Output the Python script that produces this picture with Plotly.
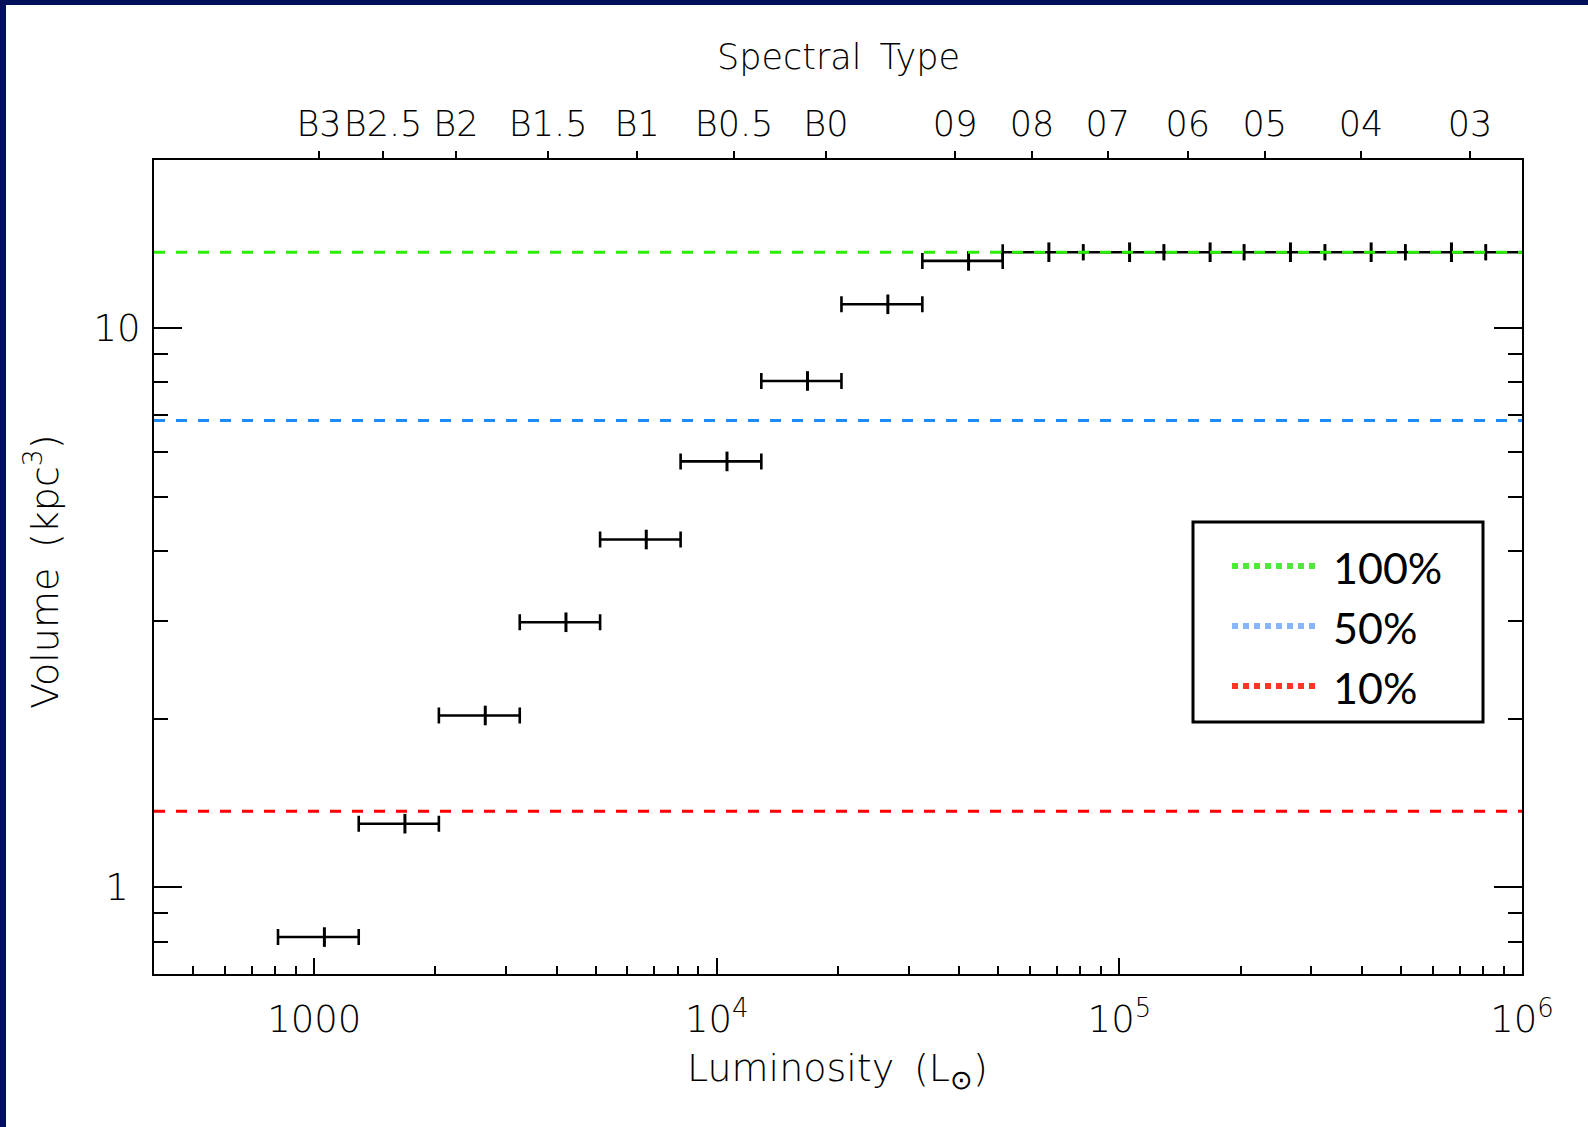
import math
import plotly.graph_objects as go

W, H = 1588, 1127
ML, MR, MT, MB = 154, 66, 160, 153

# ---- data ----
lum_center = [1060, 1680, 2660, 4220, 6680, 10600, 16800, 26600, 42200, 66800,
              106000, 168000, 266000, 422000, 668000, 1060000]
lum_low = [813, 1290, 2040, 3240, 5130, 8130, 12900, 20400, 32400, 51300,
           81300, 129000, 204000, 324000, 513000, 813000]
lum_high = [1290, 2040, 3240, 5130, 8130, 12900, 20400, 32400, 51300, 81300,
            129000, 204000, 324000, 513000, 813000, 1290000]
volume = [0.815, 1.30, 2.03, 2.98, 4.19, 5.78, 8.05, 11.04, 13.2, 13.68,
          13.68, 13.68, 13.68, 13.68, 13.68, 13.68]

level_names = ["100%", "50%", "10%"]
level_values = [13.68, 6.84, 1.368]
level_colors = ["#27f000", "#1a8cff", "#ff0000"]
legend_colors = ["#4eea3a", "#88b6fb", "#ff3526"]

spec_types = ["B3", "B2.5", "B2", "B1.5", "B1", "B0.5", "B0",
              "09", "08", "07", "06", "05", "04", "03"]
spec_lum = [1028, 1483, 2249, 3811, 6339, 11040, 18660,
            39080, 60670, 93540, 147900, 229600, 398100, 743000]

x_min, x_max = 400, 1e6
y_min, y_max = 0.7, 20

x_major = [1000, 1e4, 1e5, 1e6]
x_major_text = ["1000", "10<sup>4</sup>", "10<sup>5</sup>", "10<sup>6</sup>"]
x_minor = [500, 600, 700, 800, 900] + [m * 1000 for m in range(2, 10)] + \
          [m * 1e4 for m in range(2, 10)] + [m * 1e5 for m in range(2, 10)]
y_major = [1, 10]
y_major_text = ["1\u2008", "10"]   # punctuation space keeps "1" centred like IDL
y_minor = [0.7, 0.8, 0.9] + list(range(2, 10)) + [20]

# ---- helpers for layout positions ----
pw, ph = W - ML - MR, H - MT - MB
def px(x):
    return (x - ML) / pw
def py(y):
    return (H - MB - y) / ph

FONT = "DejaVu Sans ExtraLight, DejaVu Sans"
WT = 200
SP = "\u00a0\u2009"
fig = go.Figure()

errp = [h - c for h, c in zip(lum_high, lum_center)]
errm = [c - l for c, l in zip(lum_center, lum_low)]
fig.add_trace(go.Scatter(
    x=lum_center, y=volume, mode="markers",
    marker=dict(symbol="line-ns", size=14, line=dict(width=3, color="black"), color="black"),
    error_x=dict(type="data", symmetric=False, array=errp, arrayminus=errm,
                 color="black", thickness=2.6, width=8),
    showlegend=False, hoverinfo="skip"))

for name, val, col in zip(level_names, level_values, level_colors):
    fig.add_trace(go.Scatter(
        x=[x_min, x_max], y=[val, val], mode="lines",
        line=dict(color=col, width=3, dash="11px,11px"),
        name=name, showlegend=False, hoverinfo="skip"))

# dummy trace for top axis
fig.add_trace(go.Scatter(x=[x_min, x_max], y=[1, 1], xaxis="x2", mode="lines",
                         line=dict(width=0), showlegend=False, hoverinfo="skip"))

axis_common = dict(showgrid=False, zeroline=False, linecolor="black", linewidth=2,
                   tickcolor="black", tickwidth=2)

fig.update_layout(
    width=W, height=H,
    margin=dict(l=ML, r=MR, t=MT, b=MB, autoexpand=False),
    paper_bgcolor="white", plot_bgcolor="white",
    font=dict(family=FONT, color="black", size=34, weight=WT),
    showlegend=False,
    xaxis=dict(type="log", range=[math.log10(x_min), math.log10(x_max)], showline=True, mirror=True,
               ticks="inside", ticklen=16, tickmode="array", tickvals=x_major, ticktext=x_major_text,
               tickfont=dict(size=37, family=FONT, weight=WT), ticklabelstandoff=12,
               minor=dict(tickmode="array", tickvals=x_minor, ticks="inside", ticklen=8,
                          tickwidth=2, tickcolor="black"),
               **axis_common),
    xaxis2=dict(type="log", range=[math.log10(x_min), math.log10(x_max)], overlaying="x", side="top",
                showline=False, ticks="outside", ticklen=8, tickmode="array",
                tickvals=spec_lum, ticktext=spec_types, tickfont=dict(size=35, family=FONT, weight=WT),
                ticklabelstandoff=1, showgrid=False, zeroline=False,
                tickcolor="black", tickwidth=2),
    yaxis=dict(type="log", range=[math.log10(y_min), math.log10(y_max)],
               showline=True, mirror="ticks",
               ticks="inside", ticklen=28, tickmode="array", tickvals=y_major, ticktext=y_major_text,
               tickfont=dict(size=37, family=FONT, weight=WT), ticklabelstandoff=4,
               minor=dict(tickmode="array", tickvals=y_minor, ticks="inside", ticklen=14,
                          tickwidth=2, tickcolor="black"),
               **axis_common),
)

annotations = [
    dict(text="Spectral" + SP + "Type", x=px(838), y=py(57), xref="paper", yref="paper",
         showarrow=False, xanchor="center", yanchor="middle",
         font=dict(size=35, family=FONT, weight=WT)),
    dict(text="Luminosity" + SP + "(L<sub>⊙</sub>)", x=px(837), y=py(1070),
         xref="paper", yref="paper",
         showarrow=False, xanchor="center", yanchor="middle",
         font=dict(size=38, family=FONT, weight=WT)),
    dict(text="Volume" + SP + "(kpc<sup>3</sup>)", x=px(42), y=py(572),
         xref="paper", yref="paper",
         showarrow=False, xanchor="center", yanchor="middle", textangle=-90,
         font=dict(size=38, family=FONT, weight=WT)),
]

shapes = [
    # navy frame
    dict(type="rect", xref="paper", yref="paper", x0=px(0), x1=px(W), y0=py(5), y1=py(0),
         fillcolor="#020f5a", line=dict(width=0), layer="above"),
    dict(type="rect", xref="paper", yref="paper", x0=px(0), x1=px(6), y0=py(H), y1=py(0),
         fillcolor="#020f5a", line=dict(width=0), layer="above"),
    # legend box
    dict(type="rect", xref="paper", yref="paper", x0=px(1193), x1=px(1483), y0=py(722), y1=py(522),
         fillcolor="white", line=dict(color="black", width=3), layer="above"),
]

legend_y = [566, 626, 686]
for name, col, ly in zip(level_names, legend_colors, legend_y):
    shapes.append(dict(type="line", xref="paper", yref="paper", x0=px(1232), x1=px(1316),
                       y0=py(ly), y1=py(ly), line=dict(color=col, width=6, dash="6px,5px"),
                       layer="above"))
    annotations.append(dict(text=name, x=px(1331), y=py(ly + 1), xref="paper", yref="paper",
                            showarrow=False, xanchor="left", yanchor="middle",
                            font=dict(size=43, family="Lato", color="black", weight=400)))

fig.update_layout(annotations=annotations, shapes=shapes)
fig.write_html("out.html")
